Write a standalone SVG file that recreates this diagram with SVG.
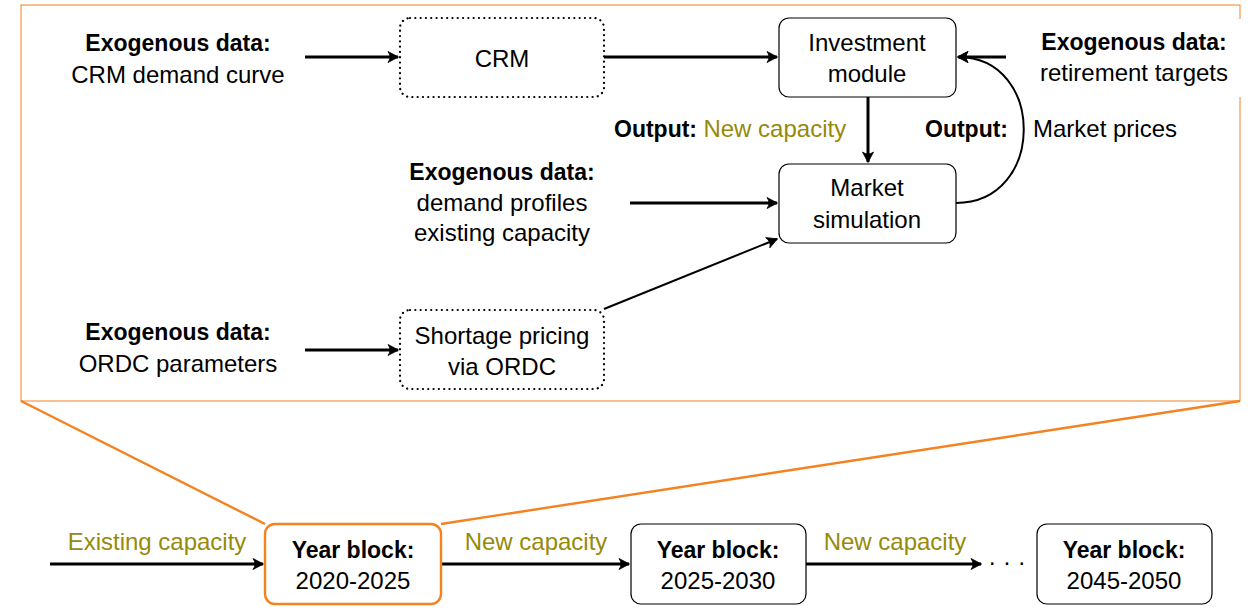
<svg xmlns="http://www.w3.org/2000/svg" width="1253" height="611" viewBox="0 0 1253 611">
<defs>
<style>
text{font-family:"Liberation Sans",Arial,sans-serif;fill:#000;text-anchor:middle}
.r{font-size:24px}
.b{font-size:23px;font-weight:bold}
.ol{fill:#968a0a}
.box{fill:#fff;stroke:#000;stroke-width:1.2}
.dot{fill:#fff;stroke:#000;stroke-width:2.2;stroke-dasharray:0.1 5.2;stroke-linecap:round}
.c{fill:none;stroke:#000;stroke-width:3;marker-end:url(#ah)}
.c2{fill:none;stroke:#000;stroke-width:2;marker-end:url(#ah)}
.zoom{fill:none;stroke:#f58220;stroke-width:2.4}
</style>
<marker id="ah" markerUnits="userSpaceOnUse" markerWidth="20" markerHeight="20" refX="0" refY="0" orient="auto" overflow="visible">
<path d="M0.5,0 L-10,-5.5 Q-6,0 -10,5.5 Z" fill="#000" stroke="#000" stroke-width="0.8" stroke-linejoin="round"/>
</marker>
</defs>
<rect width="1253" height="611" fill="#fff"/>
<g id="frame">
<rect x="21" y="5" width="1219" height="396" fill="none" stroke="#f0821e" stroke-width="1"/>
<line class="zoom" x1="21" y1="401" x2="265" y2="524"/>
<line class="zoom" x1="1240" y1="401" x2="441" y2="524"/>
</g>
<g id="connectors">
<line class="c" x1="305" y1="57" x2="398" y2="57"/>
<line class="c" x1="604" y1="57" x2="777" y2="57"/>
<line class="c" x1="868" y1="97" x2="868" y2="162"/>
<line class="c" x1="1006" y1="57" x2="958" y2="57"/>
<path class="c2" d="M956,203 C1046,203 1046,57 958,57"/>
<line class="c" x1="630" y1="203" x2="777" y2="203"/>
<line class="c2" x1="604" y1="309" x2="777" y2="239"/>
<line class="c" x1="305" y1="350" x2="398" y2="350"/>
<line class="c" x1="50" y1="564" x2="263" y2="564"/>
<line class="c" x1="441" y1="564" x2="629" y2="564"/>
<line class="c" x1="806" y1="564" x2="981" y2="564"/>
</g>
<g id="exo-crm">
<text class="b" x="178" y="51">Exogenous data:</text>
<text class="r" x="178" y="83">CRM demand curve</text>
</g>
<g id="crm">
<rect class="dot" x="400" y="18" width="204" height="79" rx="10"/>
<text class="r" x="502" y="67">CRM</text>
</g>
<g id="investment">
<rect class="box" x="779" y="18" width="177" height="79" rx="10"/>
<text class="r" x="867" y="51">Investment</text>
<text class="r" x="867" y="82">module</text>
</g>
<g id="exo-retire">
<rect x="1030" y="19" width="215" height="78" fill="#fff"/>
<text class="b" x="1134" y="50">Exogenous data:</text>
<text class="r" x="1134" y="81">retirement targets</text>
</g>
<g id="output-new">
<text class="b" x="614" y="137" style="text-anchor:start">Output: <tspan class="r ol" style="font-weight:normal">New capacity</tspan></text>
</g>
<g id="output-prices">
<text class="b" x="925" y="137" style="text-anchor:start">Output:</text>
<text class="r" x="1033" y="137" style="text-anchor:start">Market prices</text>
</g>
<g id="exo-demand">
<text class="b" x="502" y="180">Exogenous data:</text>
<text class="r" x="502" y="211">demand profiles</text>
<text class="r" x="502" y="241">existing capacity</text>
</g>
<g id="market">
<rect class="box" x="779" y="164" width="177" height="79" rx="10"/>
<text class="r" x="867" y="196">Market</text>
<text class="r" x="867" y="228">simulation</text>
</g>
<g id="exo-ordc">
<text class="b" x="178" y="340">Exogenous data:</text>
<text class="r" x="178" y="372">ORDC parameters</text>
</g>
<g id="shortage">
<rect class="dot" x="400" y="310" width="204" height="79" rx="10"/>
<text class="r" x="502" y="344">Shortage pricing</text>
<text class="r" x="502" y="375">via ORDC</text>
</g>
<g id="label-existing">
<text class="r ol" x="157" y="550">Existing capacity</text>
</g>
<g id="block1">
<rect x="265" y="524" width="176" height="80" rx="10" fill="#fff" stroke="#f58220" stroke-width="2.4"/>
<text class="b" x="353" y="558">Year block:</text>
<text class="r" x="353" y="589">2020-2025</text>
</g>
<g id="label-new1">
<text class="r ol" x="536" y="550">New capacity</text>
</g>
<g id="block2">
<rect class="box" x="631" y="524" width="175" height="80" rx="10"/>
<text class="b" x="718" y="558">Year block:</text>
<text class="r" x="718" y="589">2025-2030</text>
</g>
<g id="label-new2">
<text class="r ol" x="895" y="550">New capacity</text>
</g>
<g id="ellipsis">
<text class="r" x="1007" y="570">· · ·</text>
</g>
<g id="block3">
<rect class="box" x="1037" y="524" width="175" height="80" rx="10"/>
<text class="b" x="1124" y="558">Year block:</text>
<text class="r" x="1124" y="589">2045-2050</text>
</g>
</svg>
